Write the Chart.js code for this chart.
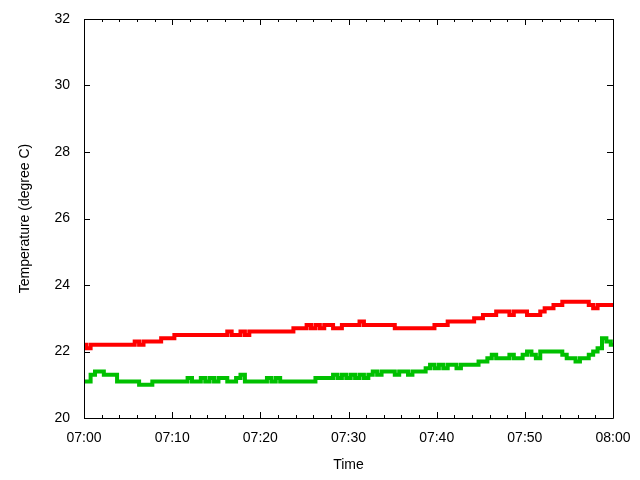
<!DOCTYPE html>
<html>
<head>
<meta charset="utf-8">
<script src="https://cdn.jsdelivr.net/npm/chart.js@4"></script>
<style>
  body { margin: 0; background: #fff; }
  canvas { display: block; }
</style>
</head>
<body>
<canvas id="tempChart" width="640" height="480"></canvas>
<script>
// minutes after 07:00, one reading every 30 s
var minutes = [];
for (var i = 0; i <= 120; i++) minutes.push(i / 2);

var redSeries = [
  22.2,22.1,22.2,22.2,22.2,22.2,22.2,22.2,22.2,22.2,
  22.2,22.2,22.3,22.2,22.3,22.3,22.3,22.3,22.4,22.4,
  22.4,22.5,22.5,22.5,22.5,22.5,22.5,22.5,22.5,22.5,
  22.5,22.5,22.5,22.6,22.5,22.5,22.6,22.5,22.6,22.6,
  22.6,22.6,22.6,22.6,22.6,22.6,22.6,22.6,22.7,22.7,
  22.7,22.8,22.7,22.8,22.7,22.8,22.8,22.7,22.7,22.8,
  22.8,22.8,22.8,22.9,22.8,22.8,22.8,22.8,22.8,22.8,
  22.8,22.7,22.7,22.7,22.7,22.7,22.7,22.7,22.7,22.7,
  22.8,22.8,22.8,22.9,22.9,22.9,22.9,22.9,22.9,23.0,
  23.0,23.1,23.1,23.1,23.2,23.2,23.2,23.1,23.2,23.2,
  23.2,23.1,23.1,23.1,23.2,23.3,23.3,23.4,23.4,23.5,
  23.5,23.5,23.5,23.5,23.5,23.4,23.3,23.4,23.4,23.4,
  23.4
];

var greenSeries = [
  21.1,21.1,21.3,21.4,21.4,21.3,21.3,21.3,21.1,21.1,
  21.1,21.1,21.1,21.0,21.0,21.0,21.1,21.1,21.1,21.1,
  21.1,21.1,21.1,21.1,21.2,21.1,21.1,21.2,21.1,21.2,
  21.1,21.2,21.2,21.1,21.1,21.2,21.3,21.1,21.1,21.1,
  21.1,21.1,21.2,21.1,21.2,21.1,21.1,21.1,21.1,21.1,
  21.1,21.1,21.1,21.2,21.2,21.2,21.2,21.3,21.2,21.3,
  21.2,21.3,21.2,21.3,21.2,21.3,21.4,21.3,21.4,21.4,
  21.4,21.3,21.4,21.4,21.3,21.4,21.4,21.4,21.5,21.6,
  21.5,21.6,21.5,21.6,21.6,21.5,21.6,21.6,21.6,21.6,
  21.7,21.7,21.8,21.9,21.8,21.8,21.8,21.9,21.8,21.8,
  21.9,22.0,21.9,21.8,22.0,22.0,22.0,22.0,22.0,21.9,
  21.8,21.8,21.7,21.8,21.8,21.9,22.0,22.1,22.4,22.3,
  22.2
];

var xTickLabels = ['07:00','07:10','07:20','07:30','07:40','07:50','08:00'];

function toPoints(values) {
  return values.map(function(v, i) { return { x: minutes[i], y: v }; });
}

// gnuplot style frame with inward ticks on all four sides
var frameTicks = {
  id: 'frameTicks',
  afterDraw: function(chart) {
    var ctx = chart.ctx;
    var a = chart.chartArea;
    var xs = chart.scales.x, ys = chart.scales.y;
    ctx.save();
    ctx.strokeStyle = '#000';
    ctx.lineWidth = 1;
    ctx.beginPath();
    ctx.rect(Math.round(a.left) + 0.5, Math.round(a.top) + 0.5,
             Math.round(a.right - a.left), Math.round(a.bottom - a.top));
    for (var m = 0; m <= 60; m += 2) {
      var px = Math.round(xs.getPixelForValue(m)) + 0.5;
      var len = (m % 10 === 0) ? 6 : 3;
      ctx.moveTo(px, a.bottom); ctx.lineTo(px, a.bottom - len);
      ctx.moveTo(px, a.top); ctx.lineTo(px, a.top + len);
    }
    for (var t = 20; t <= 32; t += 2) {
      var py = Math.round(ys.getPixelForValue(t)) + 0.5;
      ctx.moveTo(a.left, py); ctx.lineTo(a.left + 6, py);
      ctx.moveTo(a.right, py); ctx.lineTo(a.right - 6, py);
    }
    ctx.stroke();
    ctx.restore();
  }
};

Chart.defaults.font.family = '"Liberation Sans", Arial, sans-serif';
Chart.defaults.font.size = 14;
Chart.defaults.color = '#000';

var ctx = document.getElementById('tempChart').getContext('2d');
new Chart(ctx, {
  type: 'line',
  data: {
    datasets: [{
      data: toPoints(redSeries),
      borderColor: '#ff0000',
      borderWidth: 4,
      stepped: 'middle',
      pointRadius: 0,
      fill: false
    }, {
      data: toPoints(greenSeries),
      borderColor: '#00c000',
      borderWidth: 4,
      stepped: 'middle',
      pointRadius: 0,
      fill: false
    }]
  },
  options: {
    responsive: false,
    animation: false,
    layout: { padding: { left: 0, right: 27, top: 19, bottom: 0 } },
    plugins: { legend: { display: false }, tooltip: { enabled: false } },
    scales: {
      x: {
        type: 'linear',
        min: 0,
        max: 60,
        grid: { display: false, drawTicks: false },
        border: { display: false },
        ticks: {
          stepSize: 10,
          padding: 12,
          maxRotation: 0,
          callback: function(v) { return xTickLabels[v / 10]; }
        },
        title: { display: true, text: 'Time', padding: { top: 0, bottom: 6 } },
        afterFit: function(scale) {
          scale.height = 62;
          scale.paddingLeft = 0;
          scale.paddingRight = 0;
        }
      },
      y: {
        min: 20,
        max: 32,
        grid: { display: false, drawTicks: false },
        border: { display: false },
        ticks: { stepSize: 2, padding: 14 },
        title: { display: true, text: 'Temperature (degree C)', padding: { top: 17, bottom: 0 } },
        afterFit: function(scale) {
          scale.width = 84;
          scale.paddingTop = 0;
          scale.paddingBottom = 0;
        }
      }
    }
  },
  plugins: [frameTicks]
});
</script>
</body>
</html>
